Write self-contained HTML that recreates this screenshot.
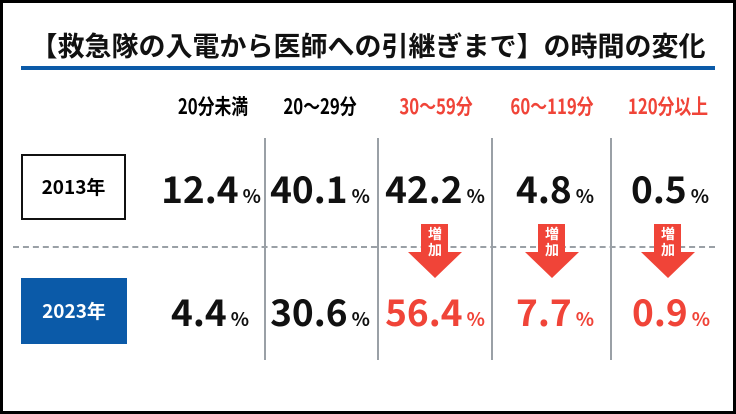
<!DOCTYPE html>
<html><head><meta charset="utf-8"><style>
html,body{margin:0;padding:0}
body{width:736px;height:414px;position:relative;overflow:hidden;background:#000;font-family:"Noto Sans CJK JP","Liberation Sans",sans-serif;}
#f{position:absolute;left:3px;top:3px;width:730px;height:408px;background:#fff}
.a{position:absolute}
.t{left:0;width:736px;top:26px;text-align:center;font-size:27px;font-weight:bold;line-height:38px;color:#111;letter-spacing:0}
.h{top:93px;font-size:21px;font-weight:bold;width:160px;margin-left:-80px;text-align:center;line-height:26px;transform:scaleX(0.8)}
.v{width:130px;margin-left:-65px;text-align:center;font-weight:bold;font-size:37px;line-height:44px;color:#111;letter-spacing:0}
.v span{font-size:19px;font-weight:bold;margin-left:4px}
.r{color:#f04438}
.vl{width:2px;background:#9aa0a6;top:138px;height:222px}
.ar{width:56px;margin-left:-28px;top:224px;height:54px}
</style></head><body>
<div id="f"></div>
<div class="a t">【救急隊の入電から医師への引継ぎまで】の時間の変化</div>
<div class="a" style="left:21px;top:66px;width:694px;height:4px;background:#0b5aa8"></div>
<div class="a h" style="left:213px">20分未満</div>
<div class="a h" style="left:320px">20〜29分</div>
<div class="a h r" style="left:436px">30〜59分</div>
<div class="a h r" style="left:552px">60〜119分</div>
<div class="a h r" style="left:668px">120分以上</div>
<div class="a vl" style="left:264px"></div>
<div class="a vl" style="left:377px"></div>
<div class="a vl" style="left:491px"></div>
<div class="a vl" style="left:610px"></div>
<div class="a" style="left:13px;top:246px;width:702px;border-top:2px dashed #9aa0a6"></div>
<div class="a" style="left:21px;top:154px;width:101px;height:62px;border:2px solid #111;text-align:center;line-height:62px;font-size:19px;font-weight:bold">2013年</div>
<div class="a" style="left:21px;top:278px;width:106px;height:66px;background:#0b5aa8;color:#fff;text-align:center;line-height:66px;font-size:19px;font-weight:bold">2023年</div>
<div class="a v" style="left:211px;top:165px">12.4<span>%</span></div>
<div class="a v" style="left:320px;top:165px">40.1<span>%</span></div>
<div class="a v" style="left:435px;top:165px">42.2<span>%</span></div>
<div class="a v" style="left:555px;top:165px">4.8<span>%</span></div>
<div class="a v" style="left:670px;top:165px">0.5<span>%</span></div>
<div class="a v" style="left:210px;top:288px">4.4<span>%</span></div>
<div class="a v" style="left:320px;top:288px">30.6<span>%</span></div>
<div class="a v r" style="left:435px;top:288px">56.4<span>%</span></div>
<div class="a v r" style="left:555px;top:288px">7.7<span>%</span></div>
<div class="a v r" style="left:671px;top:288px">0.9<span>%</span></div>
<svg class="a ar" style="left:435px" viewBox="0 0 56 54"><polygon points="14,0 41,0 41,28 55,28 28,54 1,28 14,28" fill="#f04438"/><text x="28" y="15" font-size="14" font-weight="bold" fill="#fff" text-anchor="middle">増</text><text x="28" y="31" font-size="14" font-weight="bold" fill="#fff" text-anchor="middle">加</text></svg>
<svg class="a ar" style="left:552px" viewBox="0 0 56 54"><polygon points="14,0 41,0 41,28 55,28 28,54 1,28 14,28" fill="#f04438"/><text x="28" y="15" font-size="14" font-weight="bold" fill="#fff" text-anchor="middle">増</text><text x="28" y="31" font-size="14" font-weight="bold" fill="#fff" text-anchor="middle">加</text></svg>
<svg class="a ar" style="left:668px" viewBox="0 0 56 54"><polygon points="14,0 41,0 41,28 55,28 28,54 1,28 14,28" fill="#f04438"/><text x="28" y="15" font-size="14" font-weight="bold" fill="#fff" text-anchor="middle">増</text><text x="28" y="31" font-size="14" font-weight="bold" fill="#fff" text-anchor="middle">加</text></svg>
</body></html>
